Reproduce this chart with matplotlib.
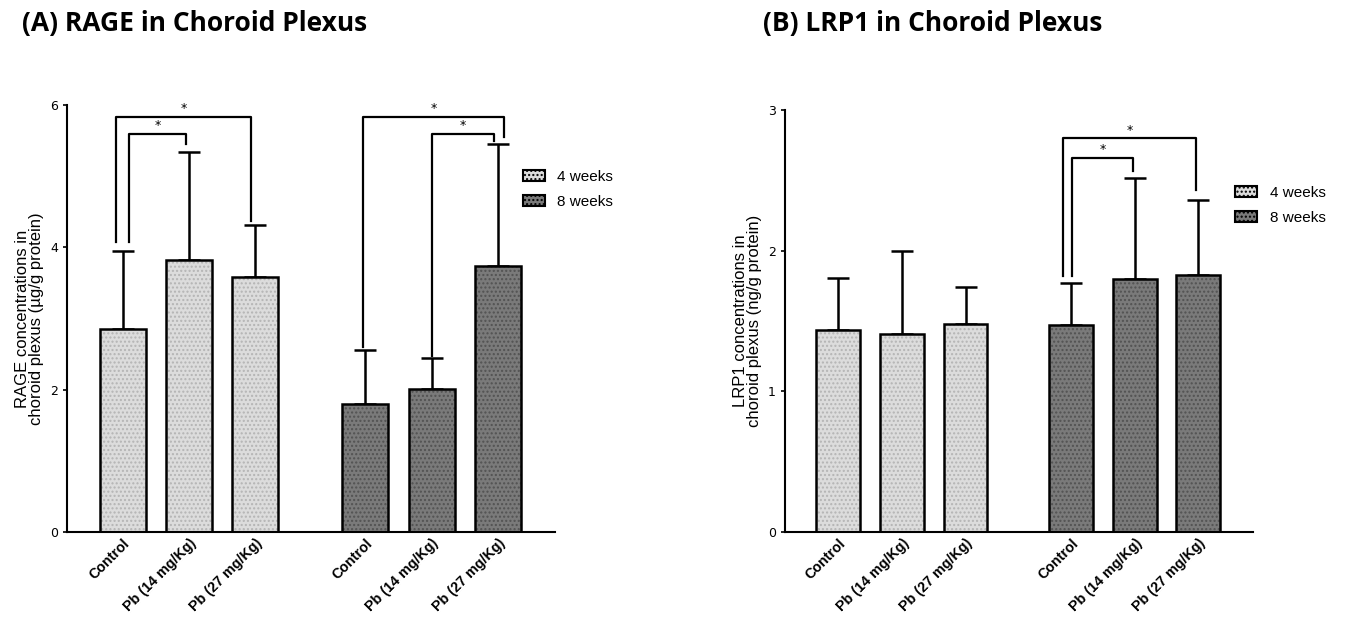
import matplotlib.pyplot as plt
from matplotlib.patches import Patch
import numpy as np

groups = ["Control", "Pb (14 mg/Kg)", "Pb (27 mg/Kg)"]
tick_labels = groups + groups
periods = ["4 weeks", "8 weeks"]

rage_mean = [2.86, 3.83, 3.58, 1.80, 2.01, 3.74]
rage_sd = [1.09, 1.51, 0.73, 0.76, 0.43, 1.72]

lrp1_mean = [1.44, 1.41, 1.48, 1.47, 1.80, 1.83]
lrp1_sd = [0.37, 0.59, 0.26, 0.30, 0.72, 0.53]

# significance brackets:
# (left bar, right bar, left shift, right shift, level, left leg bottom, right leg bottom)
rage_sig = [(0, 2, -0.10, -0.07, 5.84, 4.07, 4.37),
            (0, 1, 0.09, -0.04, 5.60, 4.07, 5.45),
            (3, 5, -0.03, 0.09, 5.84, 2.60, 5.56),
            (4, 5, 0.0, -0.06, 5.60, 2.48, 5.50)]
lrp1_sig = [(3, 5, -0.13, -0.03, 2.80, 1.82, 2.43),
            (3, 4, 0.02, -0.02, 2.66, 1.82, 2.57)]

face = ["#dcdcdc"] * 3 + ["#7a7a7a"] * 3
dots = ["#b4b4b4"] * 3 + ["#525252"] * 3
pos = np.array([0, 1, 2, 3.66, 4.66, 5.66])


def draw_panel(ax, mean, sd, sig, ylim, yticks, ylabel):
    ax.bar(pos, mean, width=0.69, color=face, edgecolor=dots, hatch="....", lw=0, zorder=2)
    ax.bar(pos, mean, width=0.69, facecolor="none", edgecolor="black", lw=1.8, zorder=3)
    ax.errorbar(pos, mean, yerr=[np.zeros(6), sd], fmt="none", ecolor="black",
                elinewidth=1.8, capsize=8, capthick=1.8, zorder=1)

    for i, j, di, dj, level, lo_i, lo_j in sig:
        xi = pos[i] + di
        xj = pos[j] + dj
        ax.plot([xi, xi, xj, xj], [lo_i, level, level, lo_j], color="black", lw=1.6,
                zorder=4, clip_on=False)
        ax.text((xi + xj) / 2, level + ylim * 0.004, "*", ha="center", va="bottom",
                fontsize=9)

    ax.set_ylim(0, ylim)
    ax.set_xlim(-0.84, 6.52)
    ax.set_yticks(yticks)
    ax.set_xticks(pos)
    ax.set_xticklabels(tick_labels, rotation=45, ha="right", rotation_mode="anchor",
                       fontsize=10.3, fontweight="bold", fontfamily="Liberation Sans")
    ax.tick_params(axis="y", labelsize=9, length=3, width=1.2)
    ax.tick_params(axis="x", length=0, pad=3)
    ax.set_ylabel(ylabel, fontsize=12, fontfamily="Liberation Sans", labelpad=4,
                  linespacing=0.95)
    for side in ["top", "right"]:
        ax.spines[side].set_visible(False)
    for side in ["left", "bottom"]:
        ax.spines[side].set_linewidth(1.5)


fig = plt.figure(figsize=(13.45, 6.24), dpi=100)

ax1 = fig.add_axes([0.0498, 0.1474, 0.3628, 0.684])
draw_panel(ax1, rage_mean, rage_sd, rage_sig, 6, [0, 2, 4, 6],
           "RAGE concentrations in\nchoroid plexus (µg/g protein)")

ax2 = fig.add_axes([0.5836, 0.1474, 0.348, 0.676])
draw_panel(ax2, lrp1_mean, lrp1_sd, lrp1_sig, 3, [0, 1, 2, 3],
           "LRP1 concentrations in\nchoroid plexus (ng/g protein)")

handles = [Patch(facecolor=face[0], edgecolor="black", hatch="....", lw=1.5),
           Patch(facecolor=face[3], edgecolor="black", hatch="....", lw=1.5)]
for ax, anchor in [(ax1, (0.934, 0.848)), (ax2, (0.962, 0.82))]:
    ax.legend(handles, periods, loc="upper left", bbox_to_anchor=anchor, frameon=False,
              borderpad=0, borderaxespad=0, handlelength=1.45, handleheight=0.75,
              labelspacing=0.7, handletextpad=0.8,
              prop={"family": "Liberation Sans", "size": 11})

fig.text(0.016, 0.963, "(A) RAGE in Choroid Plexus", fontsize=19, fontweight="bold",
         fontfamily="Open Sans", va="center")
fig.text(0.567, 0.963, "(B) LRP1 in Choroid Plexus", fontsize=19, fontweight="bold",
         fontfamily="Open Sans", va="center")

fig.savefig("out.png", dpi=100)
